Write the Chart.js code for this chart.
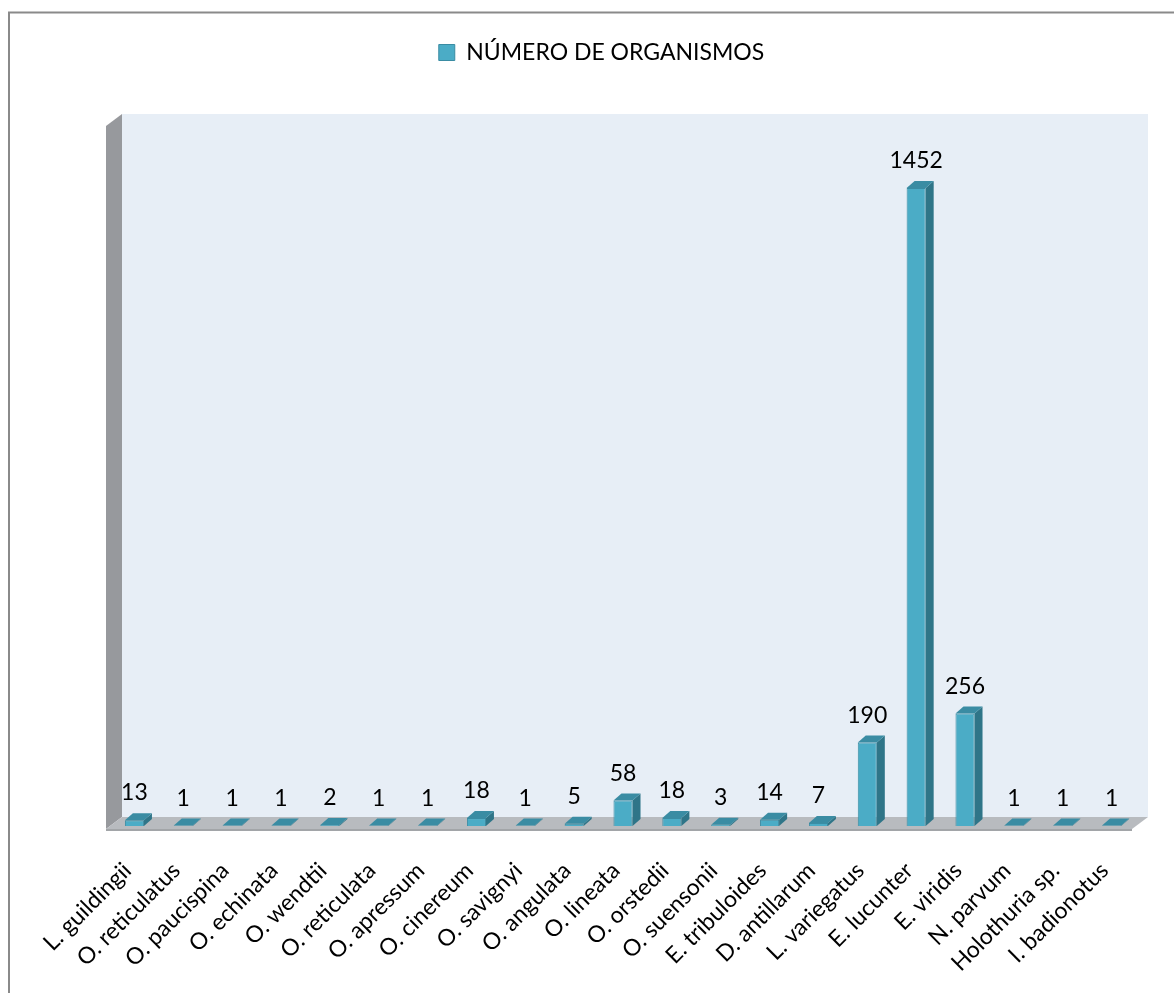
<!DOCTYPE html>
<html>
<head>
<meta charset="utf-8">
<script src="https://cdn.jsdelivr.net/npm/chart.js@4/dist/chart.umd.min.js"></script>
<style>
  html, body { margin: 0; padding: 0; background: #fff; overflow: hidden; }
  #wrap { width: 1174px; height: 993px; }
</style>
</head>
<body>
<div id="wrap"><canvas id="chart" width="1174" height="993"></canvas></div>
<script>
// Species counted
const species = [
  'L. guildingii', 'O. reticulatus', 'O. paucispina', 'O. echinata', 'O. wendtii',
  'O. reticulata', 'O. apressum', 'O. cinereum', 'O. savignyi', 'O. angulata',
  'O. lineata', 'O. orstedii', 'O. suensonii', 'E. tribuloides', 'D. antillarum',
  'L. variegatus', 'E. lucunter', 'E. viridis', 'N. parvum', 'Holothuria sp.', 'I. badionotus'
];

// Number of organisms per species
const organisms = [13, 1, 1, 1, 2, 1, 1, 18, 1, 5, 58, 18, 3, 14, 7, 190, 1452, 256, 1, 1, 1];

const seriesName = 'NÚMERO DE ORGANISMOS';
const axisMin = 0;
const axisMax = 1600;

const FONT = 'Lato, "Open Sans", "DejaVu Sans", sans-serif';
const FONT_SIZE = 23;

// Pseudo-3D look: walls, floor, bar tops/sides and value labels
const box3d = {
  id: 'box3d',
  beforeDraw(chart) {
    const ctx = chart.ctx;
    ctx.save();
    ctx.fillStyle = '#ffffff';
    ctx.fillRect(0, 0, chart.width, chart.height);
    ctx.strokeStyle = '#8a8a8a';
    ctx.lineWidth = 2;
    ctx.strokeRect(9, 12.5, chart.width + 40, chart.height + 40);
    ctx.restore();
  },
  beforeDatasetsDraw(chart) {
    const ctx = chart.ctx;
    const area = chart.chartArea;
    const y = chart.scales.y;
    const base = y.getPixelForValue(axisMin);
    const top = y.getPixelForValue(axisMax);
    // bars stand a quarter of the way into the floor depth
    const fx = -4, fy = 3;      // front plane offset
    const bx = 12, by = -9;     // back plane offset
    const L = area.left, R = area.right;
    ctx.save();
    // back wall
    ctx.fillStyle = '#e7eef6';
    ctx.fillRect(L + bx, top + by, R - L, base - top);
    // left side wall
    ctx.fillStyle = '#97999d';
    ctx.beginPath();
    ctx.moveTo(L + fx, top + fy);
    ctx.lineTo(L + bx, top + by);
    ctx.lineTo(L + bx, base + by);
    ctx.lineTo(L + fx, base + fy);
    ctx.closePath();
    ctx.fill();
    // floor
    ctx.fillStyle = '#b8bbbf';
    ctx.beginPath();
    ctx.moveTo(L + fx, base + fy);
    ctx.lineTo(R + fx, base + fy);
    ctx.lineTo(R + bx, base + by);
    ctx.lineTo(L + bx, base + by);
    ctx.closePath();
    ctx.fill();
    ctx.fillStyle = '#a2a5a8';
    ctx.fillRect(L + fx, base + fy, R - L, 2);
    ctx.restore();
  },
  afterDatasetsDraw(chart) {
    const ctx = chart.ctx;
    const meta = chart.getDatasetMeta(0);
    const values = chart.data.datasets[0].data;
    const dx = 8, dy = -7;
    ctx.save();
    meta.data.forEach((bar, i) => {
      const xl = bar.x - bar.width / 2;
      const xr = bar.x + bar.width / 2;
      const yt = bar.y;
      const yb = bar.base;
      // side face
      ctx.fillStyle = '#2f7588';
      ctx.beginPath();
      ctx.moveTo(xr, yt);
      ctx.lineTo(xr + dx, yt + dy);
      ctx.lineTo(xr + dx, yb + dy);
      ctx.lineTo(xr, yb);
      ctx.closePath();
      ctx.fill();
      // top face
      ctx.fillStyle = '#3a8ca3';
      ctx.beginPath();
      ctx.moveTo(xl, yt);
      ctx.lineTo(xr, yt);
      ctx.lineTo(xr + dx, yt + dy);
      ctx.lineTo(xl + dx, yt + dy);
      ctx.closePath();
      ctx.fill();
      // value label
      ctx.fillStyle = '#000';
      ctx.font = FONT_SIZE + 'px ' + FONT;
      ctx.textAlign = 'center';
      ctx.textBaseline = 'alphabetic';
      ctx.fillText(String(values[i]), bar.x, yt - 20);
    });
    ctx.restore();
  }
};

new Chart(document.getElementById('chart'), {
  type: 'bar',
  data: {
    labels: species,
    datasets: [{
      label: seriesName,
      data: organisms,
      backgroundColor: '#4bacc6',
      borderColor: '#3a8ca3',
      borderWidth: 1,
      barPercentage: 0.39,
      categoryPercentage: 1
    }]
  },
  options: {
    responsive: false,
    animation: false,
    devicePixelRatio: 1,
    layout: { padding: { left: 67, right: 38, top: 31, bottom: 0 } },
    plugins: {
      legend: {
        position: 'top',
        labels: {
          boxWidth: 16, boxHeight: 16, padding: 10, color: '#000',
          font: { family: FONT, size: FONT_SIZE }
        }
      },
      tooltip: { enabled: false }
    },
    scales: {
      x: {
        grid: { display: false, drawTicks: false },
        border: { display: false },
        ticks: {
          autoSkip: false, minRotation: 45, maxRotation: 45,
          padding: 31, labelOffset: -7, color: '#000',
          font: { family: FONT, size: FONT_SIZE }
        },
        afterFit(axis) { axis.height = 167; }
      },
      xTop: {
        position: 'top',
        grid: { display: false, drawTicks: false },
        border: { display: false },
        ticks: { display: false },
        afterFit(axis) { axis.height = 49; }
      },
      y: {
        min: axisMin, max: axisMax,
        grid: { display: false, drawTicks: false },
        border: { display: false },
        ticks: { display: false },
        afterFit(axis) { axis.width = 43; }
      }
    }
  },
  plugins: [box3d]
});
</script>
</body>
</html>
